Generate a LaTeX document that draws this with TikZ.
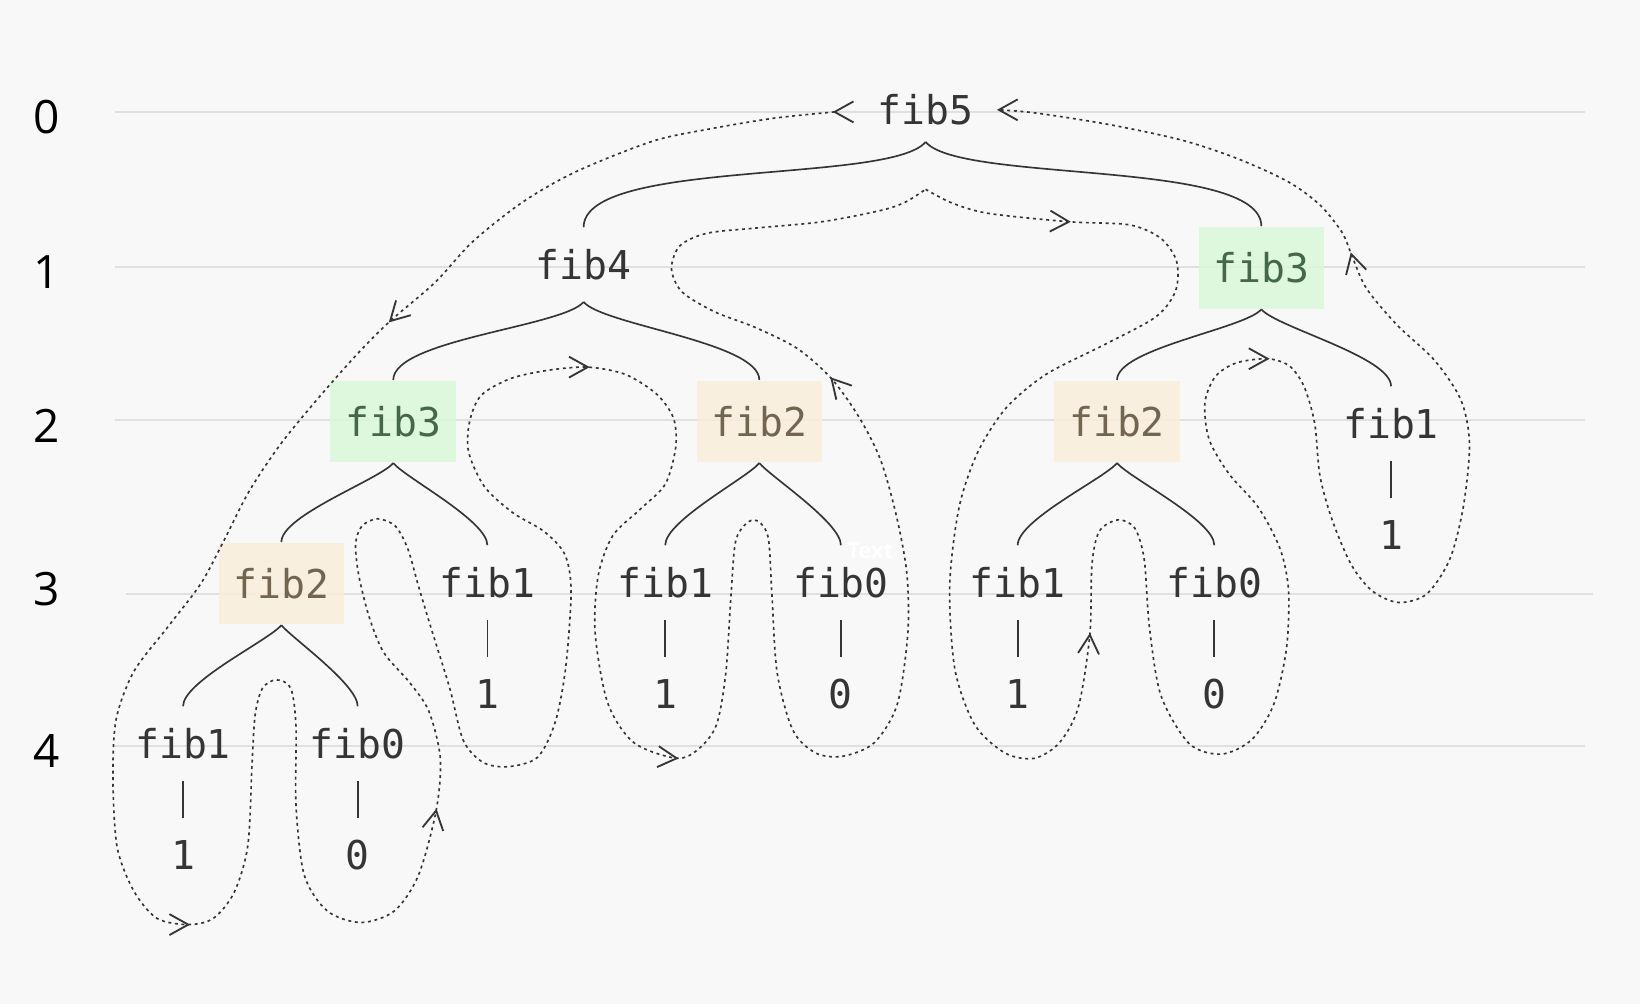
\documentclass[tikz,border=0pt]{standalone}
\usepackage{fontspec}
\setmonofont{DejaVu Sans Mono}
\setsansfont{Open Sans}
\usepackage{tikz}
\usetikzlibrary{positioning}
\definecolor{paper}{HTML}{F8F8F8}
\definecolor{ink}{HTML}{353535}
\definecolor{rulegray}{HTML}{E0E0E0}
\definecolor{greenbox}{HTML}{DAF8DA}
\definecolor{greentext}{HTML}{46684A}
\definecolor{tanbox}{HTML}{FAEEDA}
\definecolor{tantext}{HTML}{736650}

\begin{document}
\begin{tikzpicture}[x=0.01cm,y=0.01cm,
    call/.style={font=\ttfamily\fontsize{10.8}{12}\selectfont, text=ink,
      minimum width=1.2cm, minimum height=0.7cm, inner sep=0pt},
    hotcall/.style={call, minimum height=0.78cm, fill=greenbox, text=greentext,
      fill opacity=0.85, text opacity=1},
    againcall/.style={call, minimum height=0.78cm, fill=tanbox, text=tantext,
      fill opacity=0.85, text opacity=1},
    lvl/.style={font=\sffamily\fontsize{12.5}{14}\selectfont, text=black},
    rule/.style={draw=rulegray, line width=0.55pt},
    branch/.style={draw=ink, line width=0.45pt},
    lkid/.style={out=230, in=90, out looseness=0.4, in looseness=0.5},
    rkid/.style={out=-50, in=90, out looseness=0.4, in looseness=0.5},
    tour/.style={draw=ink, line width=0.45pt, dash pattern=on 0.8pt off 1pt},
    barb/.style={draw=ink, line width=0.5pt},
    ghost/.style={font=\sffamily\bfseries\fontsize{6}{7}\selectfont, text=white}]

    \fill[paper] (0,0) rectangle (1568,-960);
    \useasboundingbox (0,0) rectangle (1568,-960);

    % depth rulers
    \foreach \y/\a/\b in {107/110/1515, 255/110/1515, 402/110/1515, 568/120/1523, 713/110/1515}
        \draw[rule] (\a,-\y) -- (\b,-\y);
    \foreach \n/\y in {0/112, 1/260, 2/407, 3/563, 4/718}
        \node[lvl] (lvl\n) at (45,-\y) {\n};

    % calls
    \node (fibfive) at (885,-105) [call, minimum height=0.6cm] {fib5};
    \node (fibfour) at (558,-253) [call] {fib4};
    \node (fibthreeR) at (1206,-256) [hotcall] {fib3};
    \node (fibthreeL) at (376,-403) [hotcall] {fib3};
    \node (fibtwoA) at (726,-403) [againcall] {fib2};
    \node (fibtwoB) at (1068,-403) [againcall] {fib2};
    \node (fiboneA) at (1330,-405) [call] {fib1};
    \node (fibtwoC) at (269,-558) [againcall] {fib2};
    \node (fiboneB) at (466,-557) [call] {fib1};
    \node (fiboneC) at (636,-557) [call] {fib1};
    \node (fibzeroA) at (804,-557) [call] {fib0};
    \node (fiboneD) at (973,-557) [call] {fib1};
    \node (fibzeroB) at (1161,-557) [call] {fib0};
    \node (fiboneE) at (175,-711) [call] {fib1};
    \node (fibzeroC) at (342,-711) [call] {fib0};

    % returned values
    \foreach \c in {fiboneA, fiboneB, fiboneC, fiboneD, fiboneE} {
        \node (val\c) [call, below=0.35cm of \c] {1};
        \draw[branch] (\c) -- (val\c);
    }
    \foreach \c in {fibzeroA, fibzeroB, fibzeroC} {
        \node (val\c) [call, below=0.35cm of \c] {0};
        \draw[branch] (\c) -- (val\c);
    }

    % braces
    \foreach \p/\c in {fibfive/fibfour, fibfour/fibthreeL, fibthreeL/fibtwoC, fibtwoC/fiboneE,
                       fibtwoA/fiboneC, fibthreeR/fibtwoB, fibtwoB/fiboneD}
        \draw[branch] (\p.south) to[lkid] (\c.north);
    \foreach \p/\c in {fibfive/fibthreeR, fibfour/fibtwoA, fibthreeL/fiboneB, fibtwoC/fibzeroC,
                       fibtwoA/fibzeroA, fibthreeR/fiboneA, fibtwoB/fibzeroB}
        \draw[branch] (\p.south) to[rkid] (\c.north);

    % order of evaluation
    \draw[tour] plot[smooth] coordinates {(798,-107) (740,-113) (680,-123) (624,-135) (551,-164)
        (500,-193) (452,-231) (416,-270) (373,-307) (342,-338) (304,-381) (268,-425) (238,-470)
        (214,-517) (192,-558) (160,-600) (128,-642) (111,-688) (108,-745) (112,-810) (128,-852)
        (150,-878) (180,-884) (204,-878) (224,-853) (237,-808) (241,-730) (244,-683) (251,-658)
        (264,-650) (278,-658) (283,-695) (283,-770) (291,-837) (313,-871) (345,-882) (377,-871)
        (400,-837) (417,-775) (421,-725) (410,-680) (392,-653) (367,-624) (353,-590) (343,-550)
        (340,-520) (346,-503) (361,-496) (378,-503) (390,-525) (400,-560) (412,-600) (430,-658)
        (443,-708) (462,-729) (486,-733) (514,-724) (531,-690) (541,-637) (546,-565) (540,-530)
        (520,-508) (490,-490) (463,-465) (448,-432) (449,-403) (460,-378) (488,-362) (524,-354)
        (562,-351) (598,-358) (628,-377) (644,-400) (646,-428) (636,-463) (612,-487) (586,-512)
        (572,-550) (569,-605) (581,-672) (606,-710) (647,-725) (668,-716) (685,-693) (694,-643)
        (699,-568) (704,-515) (720,-497) (734,-512) (738,-568) (743,-643) (758,-698) (780,-720)
        (806,-723) (836,-710) (858,-673) (868,-605) (867,-548) (857,-493) (842,-440) (822,-400)
        (795,-362) (762,-333) (722,-313) (683,-298) (652,-279) (642,-257) (650,-235) (676,-223)
        (723,-218) (786,-212) (843,-201) (866,-193) (885,-181)};
    \draw[tour] plot[smooth] coordinates {(885,-181) (910,-194) (945,-204) (1022,-212) (1080,-215)
        (1110,-228) (1125,-250) (1124,-278) (1105,-303) (1055,-330) (1000,-358) (962,-390)
        (935,-432) (917,-485) (908,-560) (913,-640) (932,-693) (961,-720) (989,-725) (1013,-710)
        (1031,-676) (1042,-607) (1044,-540) (1051,-508) (1069,-497) (1085,-505) (1094,-535)
        (1099,-600) (1110,-665) (1137,-711) (1168,-721) (1197,-707) (1218,-673) (1230,-620)
        (1232,-565) (1224,-525) (1203,-485) (1175,-453) (1156,-420) (1152,-385) (1162,-360)
        (1182,-347) (1212,-343) (1233,-350) (1247,-370) (1257,-405) (1262,-455) (1274,-498)
        (1292,-540) (1312,-565) (1337,-576) (1364,-568) (1386,-535) (1399,-485) (1405,-425)
        (1397,-383) (1372,-345) (1335,-310) (1306,-275) (1292,-243) (1283,-222) (1262,-196)
        (1232,-174) (1184,-152) (1130,-134) (1060,-119) (990,-108) (955,-105)};
    \foreach \x/\y/\a in {798/107/180, 373/307/225, 180/884/0, 417/775/80, 562/351/0,
                          647/725/-5, 795/362/132, 1022/212/-2, 1042/607/86, 1212/343/0,
                          1292/243/105, 955/105/180}
        \draw[barb, rotate around={\a:(\x,-\y)}] (\x-18,-\y+10) -- (\x,-\y) -- (\x-18,-\y-10);

    \node[ghost] (ghost) at (832,-527) {Text};
\end{tikzpicture}
\end{document}
